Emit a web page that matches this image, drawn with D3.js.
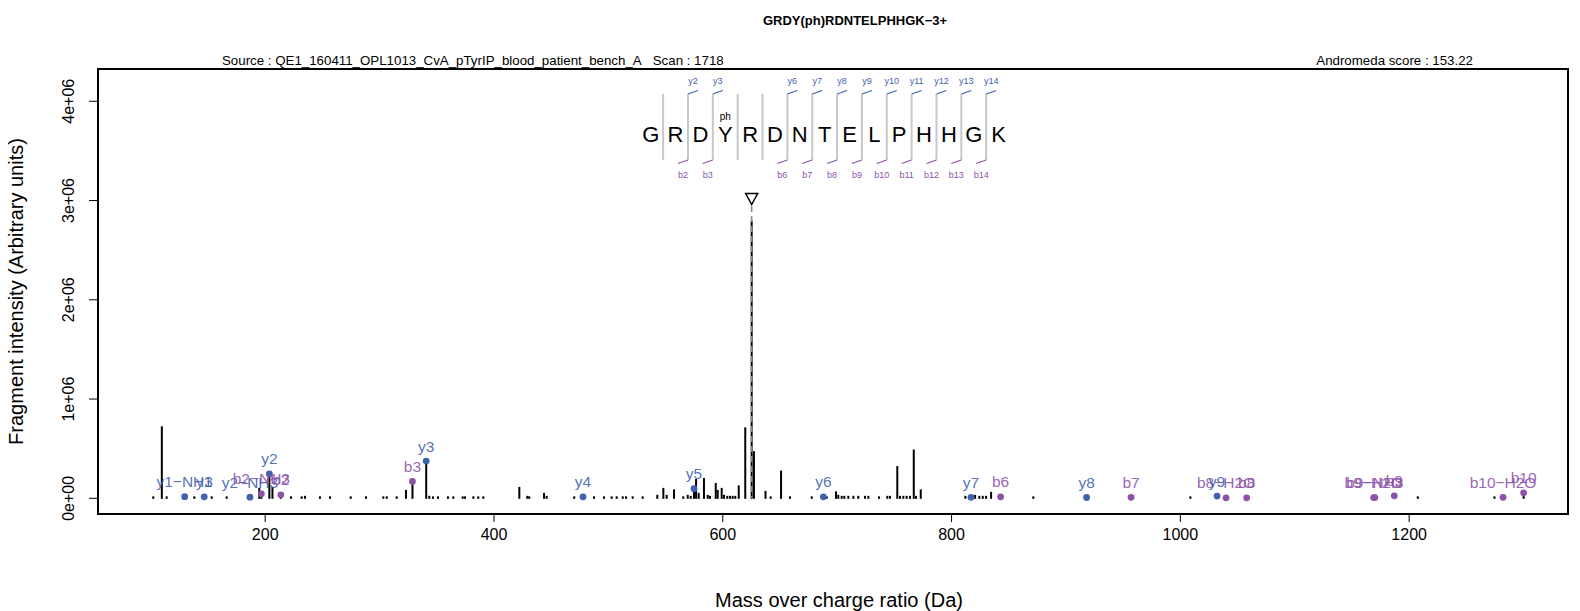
<!DOCTYPE html>
<html><head><meta charset="utf-8">
<script src="https://cdn.jsdelivr.net/npm/d3@7/dist/d3.min.js"></script>
<style>body{margin:0;background:#fff}svg text{font-family:"Liberation Sans",Arial,Helvetica,sans-serif}</style>
</head><body><svg id="c" width="1580" height="611"></svg>
<script>
// ---------- data ----------
const peakMz = [102.6,110.1,114.3,130.1,138.5,147.1,153.7,166.8,187.1,195.3,197.1,204.1,206.8,214.1,223.0,232.3,235.2,248.3,257.1,275.2,288.6,303.7,306.7,315.4,323.5,329.2,341.2,343.9,347.1,351.5,360.2,364.9,373.1,375.1,382.4,386.7,391.1,422.6,429.6,431.3,444.2,446.5,470.6,478.3,487.9,496.6,503.3,507.7,513.0,515.9,521.7,530.4,543.2,548.5,551.4,557.8,565.9,569.8,572.4,575.3,577.1,579.4,584.0,587.3,589.3,594.3,596.0,599.5,601.5,604.4,606.8,609.1,611.4,614.4,620.1,625.7,627.7,637.8,642.3,651.4,659.2,678.2,688.4,691.3,699.4,701.4,704.4,706.7,710.2,714.6,718.9,724.8,727.7,737.0,744.3,746.6,753.0,755.4,758.3,761.2,764.1,767.4,769.4,773.5,812.5,817.4,821.0,824.7,827.7,830.6,835.0,843.3,871.9,918.5,957.4,1009.2,1032.5,1040.4,1058.4,1169.4,1170.4,1187.5,1208.0,1275.0,1282.5,1300.5];
const peakInt = [0.015,0.72,0.015,0.03,0.015,0.012,0.015,0.015,0.008,0.1,0.04,0.26,0.11,0.03,0.015,0.015,0.02,0.015,0.015,0.015,0.015,0.015,0.015,0.015,0.08,0.165,0.37,0.02,0.015,0.015,0.015,0.015,0.015,0.015,0.015,0.015,0.015,0.11,0.02,0.015,0.05,0.02,0.015,0.01,0.015,0.015,0.015,0.015,0.015,0.015,0.015,0.015,0.03,0.1,0.03,0.085,0.015,0.03,0.02,0.09,0.19,0.05,0.2,0.03,0.02,0.15,0.08,0.1,0.03,0.02,0.02,0.02,0.02,0.125,0.71,2.79,0.47,0.07,0.015,0.275,0.015,0.015,0.01,0.015,0.065,0.03,0.02,0.02,0.02,0.02,0.02,0.02,0.02,0.015,0.02,0.02,0.32,0.02,0.02,0.02,0.02,0.487,0.02,0.085,0.02,0.01,0.03,0.02,0.02,0.02,0.06,0.01,0.015,0.005,0.005,0.015,0.018,0.005,0.005,0.005,0.005,0.02,0.015,0.015,0.005,0.05].map(v => v * 1e6);

const ionNames = ["y1\u2212NH3","y1","y2\u2212NH3","b2\u2212NH3","y2","b2","b3","y3","y4","y5","y6","y7","b6","y8","b7","b8\u2212H2O","y9","b8","b9\u2212NH3","b9\u2212H2O","b9","b10\u2212H2O","b10"];
const ionMz = [130.09,147.11,187.11,197.10,204.13,214.13,329.16,341.19,478.25,575.31,688.39,817.43,843.31,918.48,957.36,1040.40,1032.52,1058.41,1170.42,1169.44,1187.45,1282.52,1300.53];
const ionInt = [0.012,0.01,0.006,0.04,0.24,0.03,0.165,0.37,0.01,0.092,0.01,0.005,0.01,0.003,0.005,0.0,0.018,0.0,0.002,0.002,0.02,0.005,0.05].map(v => v * 1e6);
const ionType = ["y","y","y","b","y","b","b","y","y","y","y","y","b","y","b","b","y","b","b","b","b","b","b"];

const precursorMz = 625.7;
const sequence = ["G","R","D","Y","R","D","N","T","E","L","P","H","H","G","K"];
const modSite = 3, modLabel = "ph";
const yFragSites = [2,3,6,7,8,9,10,11,12,13,14];
const yFragLabels = ["y2","y3","y6","y7","y8","y9","y10","y11","y12","y13","y14"];
const bFragSites = [2,3,6,7,8,9,10,11,12,13,14];
const bFragLabels = ["b2","b3","b6","b7","b8","b9","b10","b11","b12","b13","b14"];

const xTicks = [200,400,600,800,1000,1200];
const yTicks = [0,1e6,2e6,3e6,4e6];
const titleText = "GRDY(ph)RDNTELPHHGK\u22123+";
const sourceText = "Source : QE1_160411_OPL1013_CvA_pTyrIP_blood_patient_bench_A\u00a0\u00a0\u00a0Scan : 1718";
const scoreText = "Andromeda score : 153.22";

// ---------- layout ----------
const L = 98, R = 1568, T = 69, B = 514;
const colY = "#4161AE", colB = "#8C52A8";
const svg = d3.select("#c");
const x = d3.scaleLinear().domain([54.3, 1339.3]).range([L, R]);
const y = d3.scaleLinear().domain([-0.163e6, 4.32e6]).range([B, T]);

// peaks
svg.append("g").selectAll("line").data(peakMz).join("line")
  .attr("x1", d => x(d)).attr("x2", d => x(d))
  .attr("y1", y(0)+1).attr("y2", (d,i) => Math.min(y(peakInt[i]), y(0)-1))
  .attr("stroke", "#000").attr("stroke-width", 2);

// precursor marker
const px = x(precursorMz);
svg.append("line").attr("x1", px).attr("x2", px).attr("y1", 206).attr("y2", y(0))
  .attr("stroke", "#8a8a8a").attr("stroke-width", 1.6).attr("stroke-dasharray", "6,4");
svg.append("path").attr("d", `M${px-6},193.5 L${px+6},193.5 L${px},204.5 Z`)
  .attr("fill", "none").attr("stroke", "#000").attr("stroke-width", 1.5);

// ion points and labels
const ions = ionNames.map((n,i) => ({n, mz: ionMz[i], it: ionInt[i], c: ionType[i] === "y" ? colY : colB}));
svg.append("g").selectAll("circle").data(ions).join("circle")
  .attr("cx", d => x(d.mz)).attr("cy", d => y(d.it)).attr("r", 3.4).attr("fill", d => d.c);
svg.append("g").selectAll("text").data(ions).join("text")
  .attr("x", d => x(d.mz)).attr("y", d => y(d.it) - 9.5)
  .attr("text-anchor", "middle").attr("font-size", 15.5).attr("fill", d => d.c).attr("fill-opacity", 0.9)
  .text(d => d.n);

// frame
svg.append("rect").attr("x", L).attr("y", T).attr("width", R-L).attr("height", B-T)
  .attr("fill", "none").attr("stroke", "#000").attr("stroke-width", 2);

// axes
const gx = svg.append("g").attr("transform", `translate(0,${B})`)
  .call(d3.axisBottom(x).tickValues(xTicks).tickSize(8).tickPadding(7).tickFormat(d3.format("d")));
gx.select(".domain").remove();
gx.selectAll("text").attr("font-size", 16).attr("font-family", "Liberation Sans, Arial, sans-serif").attr("fill", "#000");
gx.selectAll("line").attr("stroke", "#000");

const fmtE = v => { if (v === 0) return "0e+00"; const e = Math.floor(Math.log10(v)); const m = Math.round(v / Math.pow(10, e)); return m + "e+" + String(e).padStart(2, "0"); };
const gy = svg.append("g").attr("transform", `translate(${L},0)`)
  .call(d3.axisLeft(y).tickValues(yTicks).tickSize(9).tickFormat(fmtE));
gy.select(".domain").remove();
gy.selectAll("line").attr("stroke", "#000");
gy.selectAll("text").attr("font-size", 16).attr("font-family", "Liberation Sans, Arial, sans-serif").attr("fill", "#000")
  .attr("text-anchor", "middle").attr("dy", null).attr("x", 0).attr("y", 0)
  .attr("transform", `translate(${74.2 - L},0) rotate(-90)`);

// titles
svg.append("text").attr("x", 855).attr("y", 24.5).attr("text-anchor", "middle")
  .attr("font-size", 13).attr("font-weight", "bold").text(titleText);
svg.append("text").attr("x", 222).attr("y", 64.5).attr("font-size", 13.3).text(sourceText);
svg.append("text").attr("x", 1473).attr("y", 64.5).attr("text-anchor", "end").attr("font-size", 13.3).text(scoreText);
svg.append("text").attr("x", 839).attr("y", 606.5).attr("text-anchor", "middle").attr("font-size", 20)
  .text("Mass over charge ratio (Da)");
svg.append("text").attr("transform", `translate(23.2,${(T+B)/2}) rotate(-90)`).attr("text-anchor", "middle")
  .attr("font-size", 20).text("Fragment intensity (Arbitrary units)");

// sequence annotation
const seqX0 = 650.7, seqStep = 24.85;
const sx = i => seqX0 + i * seqStep;           // letter centre
const sepX = k => seqX0 + (k - 0.5) * seqStep;  // separator after k residues
const seqG = svg.append("g");
seqG.selectAll("line.sep").data(d3.range(1, sequence.length)).join("line").attr("class","sep")
  .attr("x1", sepX).attr("x2", sepX).attr("y1", 94).attr("y2", 160)
  .attr("stroke", "#c8c8c8").attr("stroke-width", 2);
seqG.selectAll("text.aa").data(sequence).join("text").attr("class","aa")
  .attr("x", (d,i) => sx(i)).attr("y", 141.5).attr("text-anchor", "middle").attr("font-size", 22).text(d => d);
seqG.append("text").attr("x", sx(modSite)).attr("y", 120).attr("text-anchor", "middle").attr("font-size", 10).text(modLabel);
seqG.selectAll("line.yt").data(yFragSites).join("line").attr("class","yt")
  .attr("x1", sepX).attr("x2", k => sepX(k) + 10).attr("y1", 94).attr("y2", 90.5)
  .attr("stroke", colY).attr("stroke-width", 1.2);
seqG.selectAll("text.yl").data(yFragSites).join("text").attr("class","yl")
  .attr("x", k => sepX(k) + 5).attr("y", 83.8).attr("text-anchor", "middle").attr("font-size", 9)
  .attr("fill", colY).text((k,i) => yFragLabels[i]);
seqG.selectAll("line.bt").data(bFragSites).join("line").attr("class","bt")
  .attr("x1", sepX).attr("x2", k => sepX(k) - 10).attr("y1", 160).attr("y2", 163.5)
  .attr("stroke", colB).attr("stroke-width", 1.2);
seqG.selectAll("text.bl").data(bFragSites).join("text").attr("class","bl")
  .attr("x", k => sepX(k) - 5).attr("y", 177.5).attr("text-anchor", "middle").attr("font-size", 9)
  .attr("fill", colB).text((k,i) => bFragLabels[i]);
</script></body></html>
